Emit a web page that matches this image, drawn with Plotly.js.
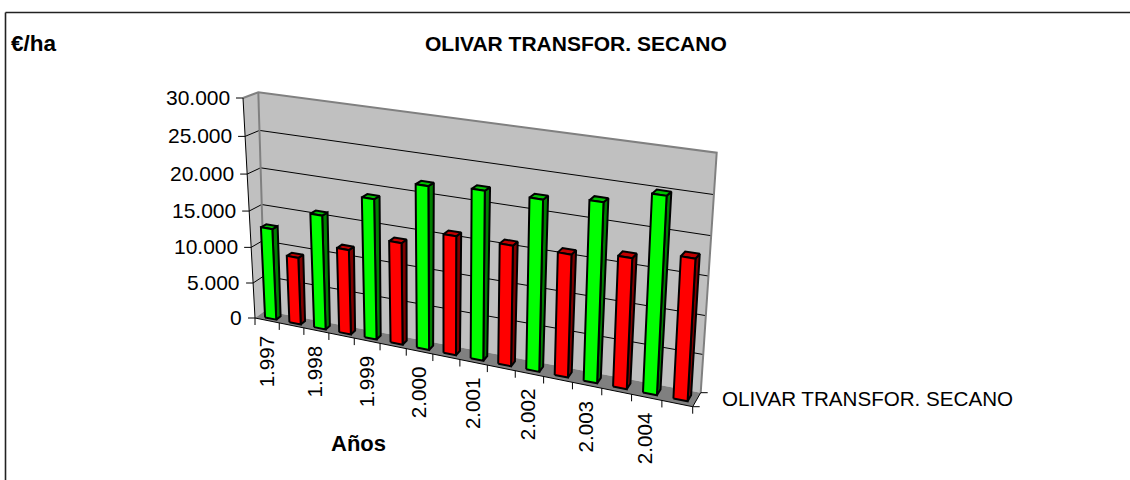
<!DOCTYPE html>
<html><head><meta charset="utf-8">
<script src="https://cdn.plot.ly/plotly-3.0.1.min.js"></script>
<style>html,body{margin:0;padding:0;background:#fff}#c{width:1130px;height:480px}</style>
</head><body><div id="c"></div>
<script>
const years = ['1.997','1.998','1.999','2.000','2.001','2.002','2.003','2.004'];
const greenValues = [12700,15700,19000,21800,22300,22300,23100,25000];
const redValues = [9350,11650,13800,15900,15900,16000,16800,18000];
const valueTicks = [0,5000,10000,15000,20000,25000,30000];
const tickText = ['0','5.000','10.000','15.000','20.000','25.000','30.000'];
const mainTitle = 'OLIVAR TRANSFOR. SECANO';
const unitLabel = '€/ha';
const axisLabel = 'Años';
const valueMax = 30000;

// View of the 3D box: the eight corners (front/back, left/right, bottom/top) and perspective foreshortening
const corners={fbl:[255,318],fbr:[692.7,406.7],bbl:[265,310.7],bbr:[700.7,392.7],
               ftl:[243,98],ftr:[705.7,161.7],btl:[258.3,92.3],btr:[716.7,152.7]};
const warp=(t,a)=>a*t/(1+(a-1)*t);
function P(X,Y,val){
  const u=warp(X,0.88),w=warp(val/valueMax,0.946),d=Y,out=[];
  for(const i of [0,1]){
    const b0=corners.fbl[i]*(1-u)+corners.fbr[i]*u, b1=corners.bbl[i]*(1-u)+corners.bbr[i]*u;
    const t0=corners.ftl[i]*(1-u)+corners.ftr[i]*u, t1=corners.btl[i]*(1-u)+corners.btr[i]*u;
    const bot=b0*(1-d)+b1*d, top=t0*(1-d)+t1*d;
    out.push(bot*(1-w)+top*w);
  }
  return out;
}
function poly(pts,closed){const o={x:[],y:[]};for(const p of pts){const q=P(p[0],p[1],p[2]);o.x.push(q[0]);o.y.push(q[1]);}
  if(closed){o.x.push(o.x[0]);o.y.push(o.y[0]);}return o;}
function join(list){const o={x:[],y:[]};list.forEach(l=>{o.x.push(...l.x,null);o.y.push(...l.y,null);});return o;}
function fillT(g,fill,line,w){return {type:'scatter',mode:'lines',x:g.x,y:g.y,fill:'toself',fillcolor:fill,
  line:{color:line,width:w,simplify:false},hoverinfo:'skip',showlegend:false};}
function lineT(g,color,w){return {type:'scatter',mode:'lines',x:g.x,y:g.y,line:{color:color,width:w,simplify:false},hoverinfo:'skip',showlegend:false,connectgaps:false};}

const traces=[];
const V=valueMax;
traces.push(fillT(poly([[0,0,0],[0,1,0],[0,1,V],[0,0,V]],true),'#c0c0c0','rgba(0,0,0,0)',0));
traces.push(fillT(poly([[0,1,0],[1,1,0],[1,1,V],[0,1,V]],true),'#c0c0c0','rgba(0,0,0,0)',0));
traces.push(fillT(poly([[0,0,0],[1,0,0],[1,1,0],[0,1,0]],true),'#808080','rgba(0,0,0,0)',0));
traces.push(lineT(join(valueTicks.slice(1,-1).map(v=>poly([[0,0,v],[0,1,v],[1,1,v]]))),'#000',1));
traces.push(lineT(poly([[0,0,V],[0,1,V],[1,1,V],[1,1,0]]),'#808080',2));
traces.push(lineT(poly([[0,1,V],[0,1,0]]),'#808080',2));
traces.push(lineT(poly([[0,0,V],[0,0,0],[1,0,0],[1,1,0]]),'#000',1));
const n=greenValues.length*2;
const catTicks=[];for(let k=0;k<=n;k++){const q=P(k/n,0,0);catTicks.push({x:[q[0],q[0]],y:[q[1],q[1]+7]});}
traces.push(lineT(join(catTicks),'#000',1));
traces.push(lineT(join(valueTicks.map(v=>{const q=P(0,0,v);return {x:[q[0],q[0]-7],y:[q[1],q[1]]};})),'#000',1));
traces.push(lineT(join([0,1].map(d=>{const q=P(1,d,0);return {x:[q[0],q[0]+7],y:[q[1],q[1]]};})),'#000',1));

const bw=0.46,y0=0.28,y1=0.72,shift=0.002;
function bars(vals,start){const f=[],s=[],t=[];
  vals.forEach((v,i)=>{const k=start+2*i,c=(k+0.5)/n+shift,a=c-bw/n/2,b=c+bw/n/2;
    f.push(poly([[a,y0,0],[b,y0,0],[b,y0,v],[a,y0,v]],true));
    s.push(poly([[b,y0,0],[b,y1,0],[b,y1,v],[b,y0,v]],true));
    t.push(poly([[a,y0,v],[b,y0,v],[b,y1,v],[a,y1,v]],true));});
  return [join(s),join(t),join(f)];}
function addBars(vals,start,cols){const g=bars(vals,start);g.forEach((q,i)=>traces.push(fillT(q,cols[i],'#000',2)));}
addBars(greenValues,0,['#008000','#00c000','#00ff00']);
addBars(redValues,1,['#800000','#c00000','#ff0000']);

const font='"Liberation Sans", Arial, sans-serif';
const ann=[];
valueTicks.forEach((v,i)=>{const q=P(0,0,v);
  ann.push({x:q[0]-11,y:q[1]-1,text:tickText[i],showarrow:false,xanchor:'right',yanchor:'middle',font:{family:font,size:21,color:'#000'}});});
years.forEach((t,i)=>{const X=(2*i+1)/n,q=P(X,0,0);
  ann.push({x:q[0]-12.5-5*X,y:q[1]+10,text:t,textangle:-90,showarrow:false,xanchor:'center',yanchor:'top',font:{family:font,size:20.6,color:'#000'}});});
ann.push({x:720,y:398,text:mainTitle,showarrow:false,xanchor:'left',yanchor:'middle',font:{family:font,size:20.6,color:'#000'}});
ann.push({x:358,y:443,text:'<b>'+axisLabel+'</b>',showarrow:false,xanchor:'center',yanchor:'middle',font:{family:font,size:22,color:'#000'}});
ann.push({x:576,y:43,text:'<b>'+mainTitle+'</b>',showarrow:false,xanchor:'center',yanchor:'middle',font:{family:font,size:21,color:'#000'}});
ann.push({x:9,y:43,text:'<b>'+unitLabel+'</b>',showarrow:false,xanchor:'left',yanchor:'middle',font:{family:font,size:22.5,color:'#000'}});

const hidden=(r)=>({range:r,visible:false,fixedrange:true,showgrid:false,zeroline:false});
Plotly.newPlot('c',traces,{
  width:1130,height:480,margin:{l:0,r:0,t:0,b:0},paper_bgcolor:'#fff',plot_bgcolor:'#fff',showlegend:false,
  xaxis:hidden([0,1130]),yaxis:hidden([480,0]),annotations:ann,
  shapes:[{type:'line',xref:'paper',yref:'paper',x0:5.5/1130,x1:1,y0:1-12.5/480,y1:1-12.5/480,line:{color:'#222',width:1.6}},
          {type:'line',xref:'paper',yref:'paper',x0:5.5/1130,x1:5.5/1130,y0:1-12.5/480,y1:0,line:{color:'#222',width:1.6}}]
},{displayModeBar:false,staticPlot:true});
</script></body></html>
